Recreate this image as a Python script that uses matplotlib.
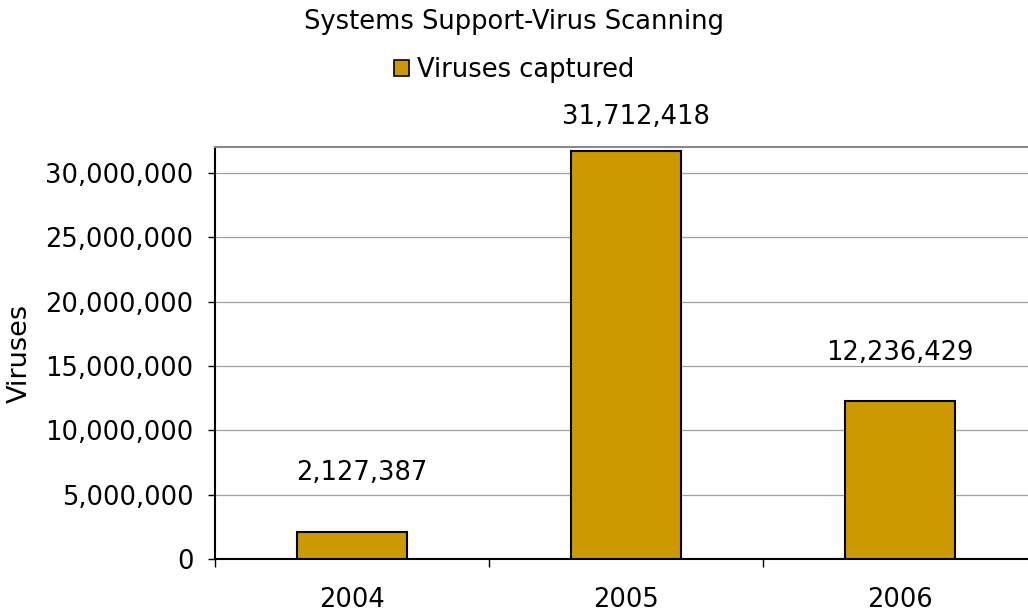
import matplotlib

matplotlib.use("Agg")
import matplotlib.pyplot as plt
from matplotlib.patches import Patch
from matplotlib.ticker import FuncFormatter, MultipleLocator

years = ["2004", "2005", "2006"]
viruses = [2127387, 31712418, 12236429]

BAR_COLOR = "#CC9900"
# label offsets from the bar top (points), as placed in the original chart
LABEL_DX = [7, 7, 0]
LABEL_DY = [37, 19, 30]

fig = plt.figure(figsize=(10.28, 6.11), dpi=100)
ax = fig.add_axes([0.209, 0.0851, 0.7996, 0.6743])

xs = list(range(len(years)))
ax.bar(xs, viruses, width=0.4, color=BAR_COLOR, edgecolor="black", linewidth=1.5, zorder=3)

for x, v, dx, dy in zip(xs, viruses, LABEL_DX, LABEL_DY):
    ax.annotate(f"{v:,}", xy=(x, v), xytext=(dx, dy), textcoords="offset points",
                ha="center", va="baseline", fontsize=18.5)

ax.set_xlim(-0.5, len(years) - 0.5)
ax.set_ylim(0, 32000000)
ax.yaxis.set_major_locator(MultipleLocator(5000000))
ax.yaxis.set_major_formatter(FuncFormatter(lambda v, p: f"{int(v):,}"))
ax.grid(axis="y", color="#A0A0A0", linewidth=0.9, zorder=0)

ax.set_xticks(xs)
ax.set_xticklabels(years)
ax.set_xticks([x - 0.5 for x in xs] + [len(years) - 0.5], minor=True)
ax.tick_params(axis="x", which="major", length=0, labelsize=18.5, pad=20)
ax.tick_params(axis="x", which="minor", length=6, width=1.0, direction="out")
ax.tick_params(axis="y", length=5, width=1.0, labelsize=18.5, pad=10.5)

ax.spines["right"].set_visible(False)
ax.spines["top"].set_color("#888888")
ax.spines["top"].set_linewidth(1.5)
ax.spines["left"].set_linewidth(1.5)
ax.spines["bottom"].set_linewidth(1.5)

ax.set_ylabel("Viruses", fontsize=19.5)
ax.yaxis.set_label_coords(-0.222, 0.5)

fig.text(0.5, 0.964, "Systems Support-Virus Scanning", ha="center", va="center", fontsize=18.5)
fig.legend(handles=[Patch(facecolor=BAR_COLOR, edgecolor="black", linewidth=1.2)],
           labels=["Viruses captured"], loc="center", bbox_to_anchor=(0.5, 0.885),
           frameon=False, fontsize=18.5, handlelength=0.6, handleheight=0.6,
           handletextpad=0.3)

fig.savefig("out.png", dpi=100)
